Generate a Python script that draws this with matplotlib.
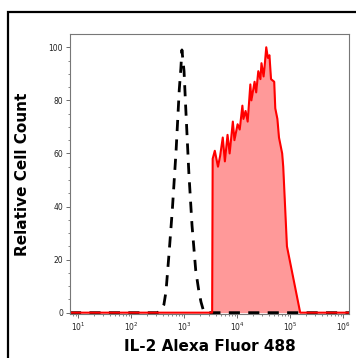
import numpy as np
import matplotlib
matplotlib.use("Agg")
import matplotlib.pyplot as plt
from matplotlib.patches import Rectangle

# isotype control (black dashed), log10 of intensity vs relative count
ctrl_log = [0.85, 2.50, 2.57, 2.62, 2.66, 2.72, 2.78, 2.85, 2.91, 2.94, 2.96,
            2.98, 3.00, 3.03, 3.09, 3.15, 3.22, 3.28, 3.32, 3.37, 3.42, 6.11]
ctrl_cnt = [0, 0, 1, 3, 8, 23, 39, 61, 84, 92, 99,
            95, 91, 78, 53, 33, 16, 8, 4, 0.5, 0, 0]

# IL-2 stained sample (red, filled)
il2_log = [0.85, 3.53, 3.54, 3.58, 3.64, 3.68, 3.73, 3.77, 3.82, 3.86, 3.92,
           3.95, 4.01, 4.05, 4.10, 4.12, 4.16, 4.20, 4.25, 4.27, 4.33, 4.36,
           4.40, 4.44, 4.46, 4.50, 4.52, 4.55, 4.58, 4.61, 4.64, 4.70, 4.72,
           4.76, 4.79, 4.85, 4.87, 4.94, 5.05, 5.15, 5.19, 6.11]
il2_cnt = [0, 0, 58, 61, 55, 59, 66, 57, 67, 60, 72,
           65, 71, 69, 78, 73, 76, 72, 86, 80, 87, 83,
           91, 88, 94, 89, 93, 100, 96, 97, 88, 87, 77,
           73, 66, 60, 55, 25, 14, 4, 0, 0]

ctrl_x = 10 ** np.array(ctrl_log)
il2_x = 10 ** np.array(il2_log)

fig = plt.figure(figsize=(3.56, 3.58), dpi=100)
fig.patches.append(Rectangle((8 / 356, -0.1), 1.2, 1.1 - 12 / 358,
                             transform=fig.transFigure, fill=False,
                             edgecolor='black', linewidth=1.6))
ax = fig.add_axes([70 / 356, 1 - 314 / 358, 279 / 356, 280 / 358])

ax.fill_between(il2_x, il2_cnt, 0, color='#ff9999', linewidth=0)
ax.plot(ctrl_x, ctrl_cnt, color='black', linewidth=2, linestyle=(0, (4, 3)))
ax.plot(il2_x, il2_cnt, color='#ff0000', linewidth=1.5)

ax.set_xscale('log')
ax.set_xlim(10 ** 0.85, 10 ** 6.11)
ax.set_ylim(-0.5, 105)
ax.set_yticks([0, 20, 40, 60, 80, 100])
ax.set_yticks(np.arange(0, 105, 5), minor=True)
ax.set_xticks([1e1, 1e2, 1e3, 1e4, 1e5, 1e6])

for s in ax.spines.values():
    s.set_color('#777777')
    s.set_linewidth(0.8)
ax.tick_params(which='major', length=3, width=0.6, color='#555555',
               labelsize=5.5, pad=2, labelcolor='#222222')
ax.tick_params(which='minor', length=1.5, width=0.5, color='#555555')

ax.set_xlabel('IL-2 Alexa Fluor 488', fontsize=11, fontweight='bold', labelpad=4)
ax.set_ylabel('Relative Cell Count', fontsize=11, fontweight='bold', labelpad=13)

fig.savefig('out.png', dpi=100)
